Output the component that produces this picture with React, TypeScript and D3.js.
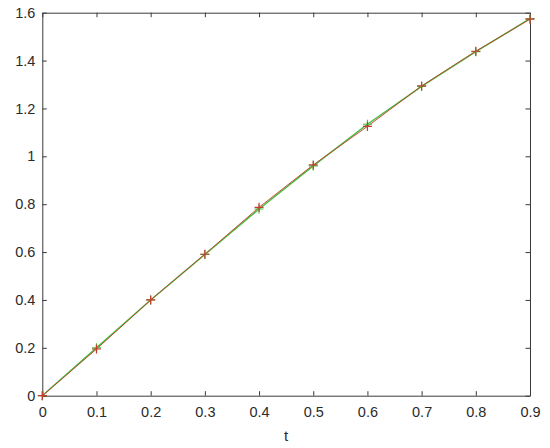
import React, { useRef, useEffect } from "react";
import * as d3 from "d3";

// sampled times
const tValues = [0, 0.1, 0.2, 0.3, 0.4, 0.5, 0.6, 0.7, 0.8, 0.9];
// green series (drawn underneath)
const greenValues = [0, 0.2, 0.4, 0.59, 0.78, 0.96, 1.134, 1.292, 1.437, 1.575];
// red series (drawn on top)
const redValues = [0, 0.195, 0.4, 0.591, 0.787, 0.964, 1.125, 1.294, 1.439, 1.573];

const xTicks = [0, 0.1, 0.2, 0.3, 0.4, 0.5, 0.6, 0.7, 0.8, 0.9];
const yTicks = [0, 0.2, 0.4, 0.6, 0.8, 1, 1.2, 1.4, 1.6];

const App = () => {
  const svgRef = useRef<SVGSVGElement>(null);
  const width = 550;
  const height = 448;
  const left = 42.3;
  const right = 530;
  const top = 12.7;
  const bottom = 395.7;
  const axisColor = "#3a3a3a";
  const font = "'Liberation Sans', Arial, sans-serif";

  useEffect(() => {
    const svg = d3.select(svgRef.current);
    svg.selectChildren().remove();

    const x = d3.scaleLinear().domain([0, 0.9]).range([left, right]);
    const y = d3.scaleLinear().domain([0, 1.6]).range([bottom, top]);

    svg.append("rect")
      .attr("x", 0).attr("y", 0)
      .attr("width", width).attr("height", height)
      .attr("fill", "#ffffff");

    // axes (box on, ticks inward)
    const tickLen = 4.5;
    const xb = d3.axisBottom(x).tickValues(xTicks).tickSizeInner(-tickLen).tickSizeOuter(0)
      .tickPadding(11).tickFormat(d => d3.format("~g")(d as number));
    const yl = d3.axisLeft(y).tickValues(yTicks).tickSizeInner(-tickLen).tickSizeOuter(0)
      .tickPadding(7).tickFormat(d => d3.format("~g")(d as number));
    const xt = d3.axisTop(x).tickValues(xTicks).tickSizeInner(-tickLen).tickSizeOuter(0).tickFormat(() => "");
    const yr = d3.axisRight(y).tickValues(yTicks).tickSizeInner(-tickLen).tickSizeOuter(0).tickFormat(() => "");

    const styleAxis = (g: d3.Selection<SVGGElement, unknown, null, undefined>) => {
      g.select(".domain").attr("stroke", axisColor).attr("stroke-width", 1);
      g.selectAll(".tick line").attr("stroke", axisColor).attr("stroke-width", 1);
      g.selectAll(".tick text")
        .attr("fill", "#2b2b2b")
        .style("font-family", font)
        .style("font-size", "14.5px");
    };

    svg.append("g").attr("transform", `translate(0,${bottom})`).call(xb).call(styleAxis);
    svg.append("g").attr("transform", `translate(${left},0)`).call(yl).call(styleAxis);
    svg.append("g").attr("transform", `translate(0,${top})`).call(xt).call(styleAxis);
    svg.append("g").attr("transform", `translate(${right},0)`).call(yr).call(styleAxis);

    // axis label
    svg.append("text")
      .attr("x", (left + right) / 2)
      .attr("y", 441)
      .attr("text-anchor", "middle")
      .attr("fill", "#2b2b2b")
      .style("font-family", font)
      .style("font-size", "15px")
      .text("t");

    const series = [
      { values: greenValues, color: "#44c040", lineWidth: 1.5 },
      { values: redValues, color: "#c83a2e", lineWidth: 0.9 },
    ];

    const line = d3.line<number>()
      .x((_, i) => x(tValues[i]))
      .y(d => y(d));

    const m = 4.5;
    series.forEach(s => {
      svg.append("path")
        .datum(s.values)
        .attr("fill", "none")
        .attr("stroke", s.color)
        .attr("stroke-width", s.lineWidth)
        .attr("d", line);
    });
    series.forEach(s => {
      const g = svg.append("g");
      s.values.forEach((v, i) => {
        const cx = x(tValues[i]);
        const cy = y(v);
        g.append("path")
          .attr("d", `M${cx - m},${cy}H${cx + m}M${cx},${cy - m}V${cy + m}`)
          .attr("stroke", s.color)
          .attr("stroke-width", 1.2)
          .attr("fill", "none");
      });
    });
  });

  return (
    <div style={{ position: "absolute", left: 0, top: 0 }}>
      <svg ref={svgRef} width={width} height={height} style={{ display: "block" }}></svg>
    </div>
  );
};

export default App;
